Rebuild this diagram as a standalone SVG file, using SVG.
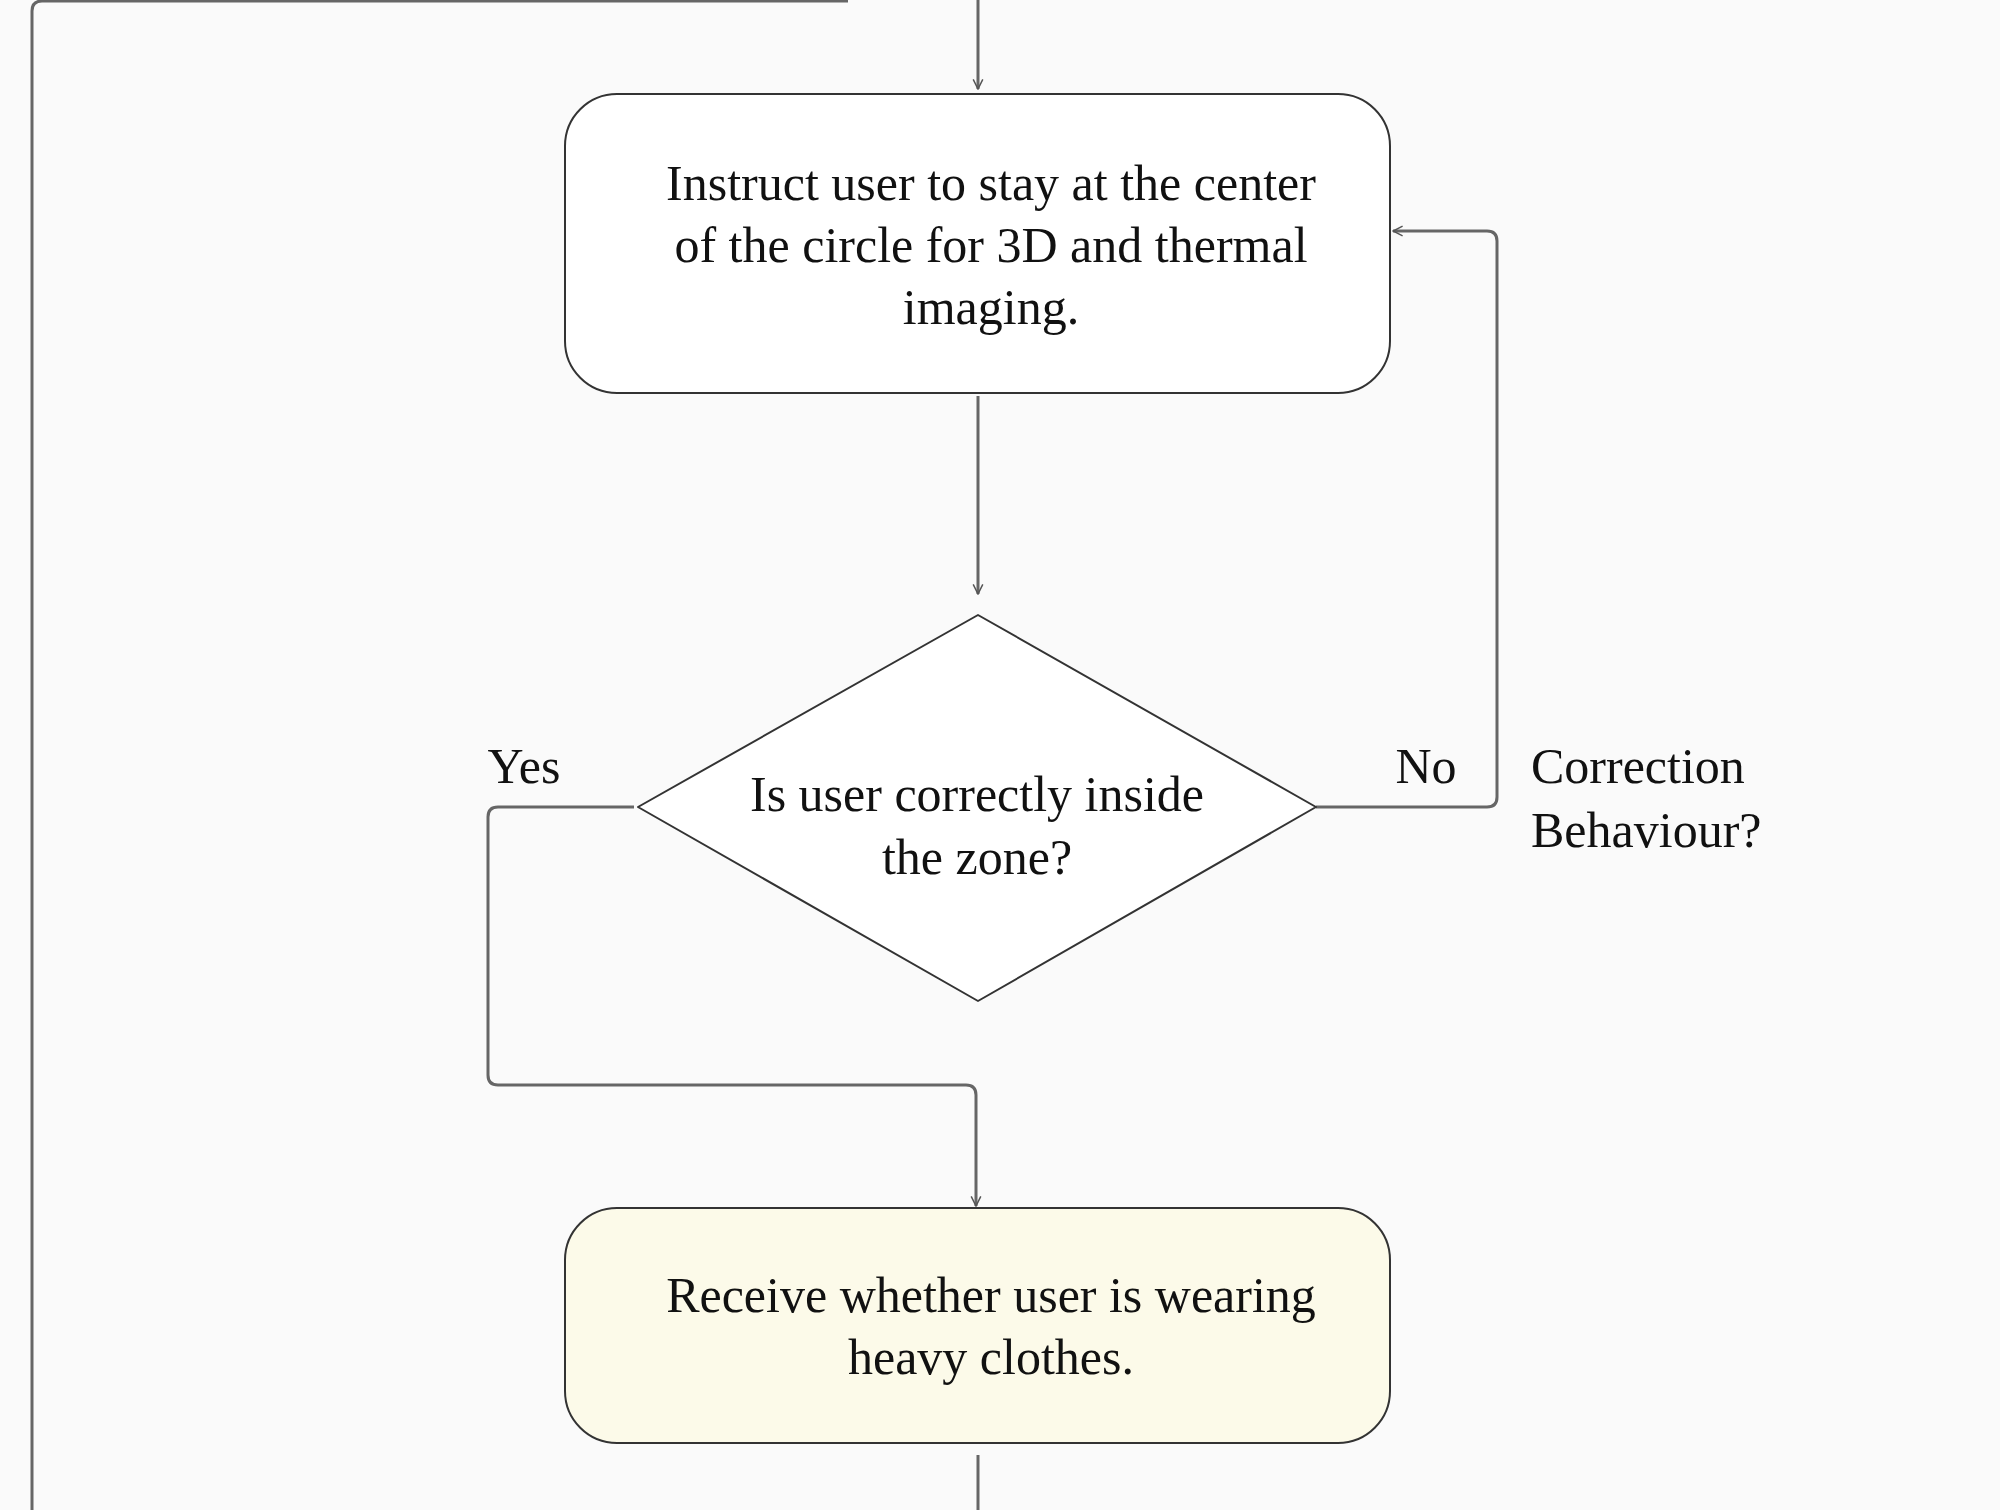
<svg xmlns="http://www.w3.org/2000/svg" width="2000" height="1510" viewBox="0 0 2000 1510">
<defs>
<style>
.t{font-family:"Liberation Serif","DejaVu Serif",serif;font-size:50px;fill:#111;text-anchor:middle}
.c{fill:none;stroke:#666;stroke-width:3}
.n{stroke:#333;stroke-width:2}
</style>
<marker id="a" viewBox="0 0 20 20" refX="18" refY="10" markerWidth="12" markerHeight="12" markerUnits="userSpaceOnUse" orient="auto"><path d="M2,2 L18,10 L2,18" fill="none" stroke="#555" stroke-width="2.5"/></marker>
</defs>
<rect width="2000" height="1510" fill="#fafafa"/>
<g id="connectors">
<path class="c" d="M848,1 H42 Q32,1 32,11 V1510"/>
<path class="c" d="M978,0 V89" marker-end="url(#a)"/>
<path class="c" d="M978,396 V594" marker-end="url(#a)"/>
<path class="c" d="M634,807 H498 Q488,807 488,817 V1075 Q488,1085 498,1085 H966 Q976,1085 976,1095 V1206" marker-end="url(#a)"/>
<path class="c" d="M1316,807 H1487 Q1497,807 1497,797 V241 Q1497,231 1487,231 H1393" marker-end="url(#a)"/>
<path class="c" d="M978,1455 V1510"/>
</g>
<g id="box1">
<rect class="n" x="565" y="94" width="825" height="299" rx="52" fill="#fff"/>
<text class="t" x="991" y="200">Instruct user to stay at the center</text>
<text class="t" x="991" y="262">of  the circle for 3D and thermal</text>
<text class="t" x="991" y="324">imaging.</text>
</g>
<g id="decision">
<path class="n" d="M638,807 L978,615 L1316,807 L978,1001 Z" fill="#fff" stroke-linejoin="round"/>
<text class="t" x="977" y="811">Is user correctly inside</text>
<text class="t" x="977" y="874">the zone?</text>
</g>
<g id="labels">
<text class="t" x="524" y="783">Yes</text>
<text class="t" x="1426" y="783">No</text>
<text class="t" x="1531" y="783" style="text-anchor:start">Correction</text>
<text class="t" x="1531" y="847" style="text-anchor:start">Behaviour?</text>
</g>
<g id="box2">
<rect class="n" x="565" y="1208" width="825" height="235" rx="52" fill="#fcfae9"/>
<text class="t" x="991" y="1312">Receive whether user is wearing</text>
<text class="t" x="991" y="1374">heavy clothes.</text>
</g>
</svg>
